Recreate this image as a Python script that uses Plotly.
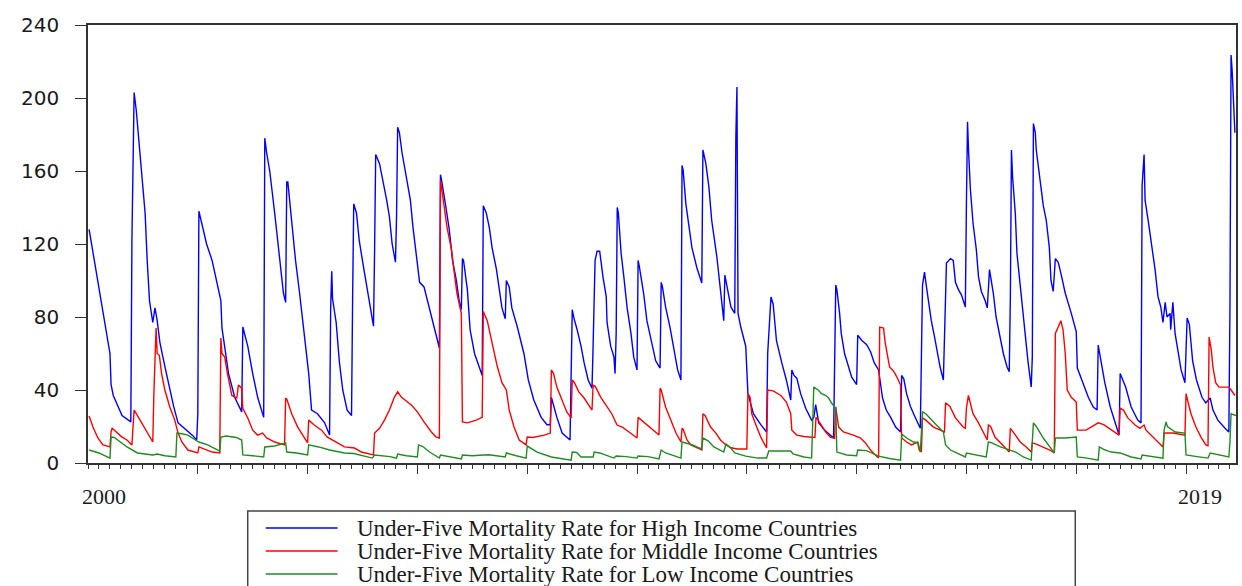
import plotly.graph_objects as go

blue_x = [1,20,21,23,31,39,40,42,44,45.5,48,50,52,54,56,59,61,63,65.5,70,74.5,78,82,88,95.5,99,100,101,103.6,108,113,117,121,122,124.5,128,133.6,140,141,142.7,145.5,150,154.5,160,161,162.7,165.5,170,174.5,178,180,181,182,185.5,189,192.7,197,201,203.6,209,215.5,220,221,222,222.7,226,229,232,236,240,241,242,244.5,247,251,254.5,258,260,261,262,265.5,268,272,274.5,277,280,281,282,283.6,286,290,293.6,296,300,302,306,311,315.5,320,321,322,326,329,332,335.5,338,340,341,342,345.5,348,352,356,359,360,362.7,365.5,368,372,374.5,377,380,381,383.6,386,391,397,401,406,412.7,418,421,422,427,431.8,439,440,441,442.7,445.5,449,451.8,455.5,459,460,461.8,463.6,466,469,472,472.7,476,479,480,481,482,483,485.5,488,491,494.5,497,500,501,502,506,509,512.7,517,521,522,523,526,530,533.6,537,540,541,542,544.5,547,550,554.5,558,559,560,562.7,565.5,568,572.7,576,579,580,581,585.5,589,590,591,592,594.5,599,601,606,612.7,618,619,622,624,627,631.8,636,640,641,643,645.5,649,653.6,659,661,662.7,665.5,671,679,681,682,684.5,686,689,692.7,695.5,700,701,705,709,712.7,716,720,721.8,723.6,727,731,735.5,740,741,743,745.5,749,753.6,758,760,761.8,763.6,766,768,771,772.7,776,779,781,781.8,785.5,788,790,792.7,795.5,799,800,801,802,803.6,806,809,811,813.6,817,819,821,823,824.5,827,831,833.6,837,839,840,841,842,844.5,846,849,851.8,854.5,856,859,860,861,862.7,863.6,866,868,870,872.7,875.5,877,879,881,883.6,886,890,895.5,900,901,906,911,915.5,919,920,922.7,926,931,935.5,939,940,945,950,956,959,960,961.8,962.7,965.5,968,971.8,974.5,977,979,981,982.7,985.5,986,988,990,992.7,995.5,999,1000,1001,1003,1006,1009.5,1014.5,1018,1022,1024.5,1029,1035.5,1039,1040,1041,1042,1043,1044.5]
blue_y = [128,60,43,37,26,22.5,122,203,193,182,168,152,137,110,89,77,85,78,66,53,40,31,22,19,15,12.6,27,138,131,120,111,100,89,74,64,49,36,28,74.5,71,64,49,36,25,178,170,160,137,113,93,88,154,154,133,111,93,71,49,29,27,22,15.3,85,105,90,77,55,40,29,26,91,142,137,122,107,95,82,75,116,169,164,157,144,135,120,110,135,184,181,170,157,144,129,111,99,96.5,84,73,63,158,155,140,128,111,100,89,84,112,111,95,73,60,53,48,141,137,129,118,106,96.5,85,79,100,96.5,85,74.5,60,45.5,34.5,25,21,21,36,25,16.4,12.6,58,84,79,73,64,55,45.5,41,64,111,116,116,102,91,77,64,58,49,71,140,137,115,102,85,71,58,51,111,108,93,78,67,56,52,99,97,85.5,74.5,62,51,45.5,163,160.5,142,131,118,107,100,98.6,171.5,164,151,133,113,93,78,103,100,85.5,82,178,206,82,74.5,64,38,27,21,17,60,91,87,67,55,45.5,34.5,51,48,46.5,38,30,23.5,25,32,22,18,13.7,97.5,95,82,71,60,53,47,43,70,67,65,61,55,51,44,35.6,29,25,19.7,17,48,46,38,31,24.7,19,97.5,104.6,96.5,85.5,78,69,63.6,52.6,45.5,95,109.6,112,111,99,95,92,85.5,142.5,187,170,150,131.5,117,102,94,89,85,106,99,93,80,69,60,52.6,50,90.4,171.5,157,137,115,96.5,82,63.6,56,41.6,58,186,181,171.5,160.5,153,141,133,118,100,94,112,110,104,93,82,72,52,44,36,30.7,29,64.6,55,44,30.7,22,15.3,49,41.6,30.7,23.5,22,152,169,144,133,122,106,91,85.5,77,88,80,82,73,88,71,60,51,44,63.6,79.5,76,56,45.5,36,33,35.6,29,23.5,19,17,85.5,223.5,215,198,181]

red_x = [1,4.5,9,13.6,20,21,22,25,31,35.5,40,41,42,44,49,54.5,59,60,62,63,65,67,70,74.5,79,82,85.5,91,100,101,105,113,120,121,122,124.5,127,131,135.5,137,140,141,145.5,150,154.5,159,162.7,170,179,180,181,185.5,191,195.5,200,201,206,212.7,218,224.5,233.6,242.7,249,260,261,265.5,270,274.5,279,282,285.5,294.5,300,306,312.7,317,320,321,322,324.5,327,331,333.6,336,340,341,345.5,353.6,359,360,363.6,368,372.7,377,381,383.6,388,392.7,399,400,405,415.5,421,422,424,427,431.8,436,440,441,443,447,451.8,456,459,460,462,467,472.7,477,481.8,487,492.7,499,500,501,505,512.7,520,521,522,526,531,535.5,540,541,542,545.5,549,554.5,559,560,562,567,571.8,576,581,585,591,600,601,603,604.5,609,612.7,618,619,624,631,636,640,641,645.5,652,659,662,663,665.5,671.8,676,680,681,683.6,688,697,703.6,708,712.7,717,720,721,724.5,726,728,730,732.7,735,738,740,741,745.5,750,755.5,757,759,760,763,770,776,780,781,785,790,797,799,800,801.8,803.5,806,811,815.5,819,820,822,826,831,835.5,839,840,842,849,854.5,859,860,863,870,876,880,881,883.6,886,888,890,891.8,895.5,900,901,909,913.6,920,925,931.8,936,939,940,943,947,953.6,958,960,961.8,963.6,968,974.5,979,980,988,999,1000,1001.8,1004.5,1009,1013.6,1018,1020,1021,1023,1024.5,1027,1030,1035.5,1039,1041,1044.5]
red_y = [25.8,19.7,13.7,9.9,8.8,17,19,17.5,14.2,12.6,9.9,19.7,29,27,22,16.4,11.5,38,74,60,59,49,40,30.7,23.5,16.4,11.5,7.1,5.5,8.8,8,6,5.5,68.5,60,58,49,37,35.6,42.7,41,30,24.7,18,15.3,16.4,13.7,11.5,9.9,35.6,35,27,19.7,15.3,11,23.5,20.8,18,14.2,12,8.8,8.2,6,4.4,16.4,19,23.5,29,36,39,36,31.8,28,22.5,17,14.2,13.7,155,150,140,129,117,104,93,82,22.5,22,23.5,25,83,78,66,53,44,40,29,19.7,12.6,9.9,14.2,14,15.3,16.4,51,49,41.6,34.5,28,24.7,45.5,44,39,35.6,32,29,42.7,42,36,30.7,27,20.8,19.5,17,14.2,13.7,25,23,19,15.3,41,40,30.7,23.5,16.4,11.5,19,18.5,12.6,9.9,8.2,7.1,27,26,19.7,16.4,12.6,9.9,8.5,7.7,7.7,38,36,27,19.7,14.2,8.2,40,39.5,37,33.4,27,18,15.3,14.5,14.2,14,25,23,17,14.2,13.5,30.7,19.7,17,15.3,13.7,11,7.1,4.4,2.7,74.5,74,66,58,52.6,51,49,45.5,42.7,13.7,11.5,9.9,11.5,7.1,6,24.7,23.5,19.7,18,17,33,31,24.7,19.7,19,30,37,33,27,22,16.4,12.6,20.8,20,14.2,11,8.2,6,19,17.5,11.5,8.8,6,11,10.5,8.8,7.1,5.5,71,74.5,78,73,60,40,36,33.4,18,18,19.7,22,21,18,16.4,15.3,30,29,24.7,20.8,19,19.7,20.8,18,15.3,11.5,8.8,16.4,16.4,15.3,38,33.4,27,19.7,14.2,9.9,9.5,69,62,52.6,44,41.6,41.6,41.6,40,37]

green_x = [1,10,20,21,24,35.5,45,59,63,70,80,81,85.5,91,101,109,120,121,126,135,140,141,150,160,161,170,180,181,190,200,201,210,220,233.6,242,259,261,275,281,282,290,300,301,305,311,320,321,330,340,341,350,360,365,380,381,390,399,400,409,422,430,440,441,445,449,460,461,466,479,481,490,500,501,510,520,522,526,540,541,550,554.5,559,560,565,570,579,581,585,589,599,610,618,620,630,640,642,652,659,661,665,668,672,674.5,677,681,682,691,700,701,709,720,730,740,741,745.5,751.8,756,758,760,763,768,772.7,779,781,785.5,794.5,799,800,810,818,820,823,831,840,845,851.8,859,861,863.6,870,876,880,881,890,900,901,910,920,921,925,931.8,940,950,959,960,970,979,980,981.8,983,990,999,1000,1010,1020,1022,1030,1039,1040,1041,1045.5]
green_y = [7.1,5.5,2.7,14.2,14,8.8,5.5,4.4,4.9,4,3.3,16.4,16,15.3,11.5,9.9,6.5,14.2,14.8,14,12.6,4.4,4,3.3,8.8,9.3,11,6,5.5,4.4,9.9,8.8,7.1,5.5,5.2,2.7,4.4,3.5,2.7,4.9,4,3.3,9.9,9,6,2.7,4.4,3.5,2.2,4.4,4,4.4,4.5,3.3,5.5,4,2.7,9.3,6,3.3,2.5,1.6,6,5.8,3.3,3.3,6,5.5,2.7,3.8,3.5,2.7,3.8,3.5,2.2,7.1,5.5,2.7,11.5,10,8.8,7.7,13.7,12,8.8,6,10.4,8.5,5.5,3.8,2.7,2.7,6.6,6.6,6.6,5,3.3,2.7,41.6,40,38,37,35.6,33,30,6,4.4,4,7.1,6.8,3.8,2.5,1.6,15.9,13.7,11.5,11,6,28,27,23.5,20.8,17,9.9,7.1,4.4,3.3,5.5,4.5,3.3,11.5,11,8.8,7.1,6,3.3,1.6,22,20,13.7,8.8,5.5,13.7,13.7,14.2,3.3,2.7,1.6,8.8,7.5,6,5.5,3.3,2.2,4.4,3.5,2.7,18,22.5,20,17,16.4,4.4,3.5,2.7,5.5,4.5,3.3,11.5,27,26]

series_names = [
    "Under-Five Mortality Rate for High Income Countries",
    "Under-Five Mortality Rate for Middle Income Countries",
    "Under-Five Mortality Rate for Low Income Countries",
]
series_colors = ["#0000FF", "#FF0000", "#1E8C1E"]
y_ticks = [0, 40, 80, 120, 160, 200, 240]
major_ticks = [100, 200, 300, 400, 500, 600, 700, 800, 900, 1000]
year_labels = ["2000", "2019"]
year_label_pos = [14.5, 1013]

fig = go.Figure()
for xs, ys, name, col in zip([blue_x, red_x, green_x], [blue_y, red_y, green_y], series_names, series_colors):
    fig.add_trace(go.Scatter(x=xs, y=ys, mode="lines", name=name,
                             line=dict(color=col, width=1.4), showlegend=False))

axis_col = "#333333"
fig.update_layout(
    width=1242, height=586,
    margin=dict(l=88, r=4, t=25, b=123),
    paper_bgcolor="white", plot_bgcolor="white",
    xaxis=dict(range=[0, 1045.5], showgrid=False, zeroline=False,
               showline=True, mirror=True, linecolor=axis_col, linewidth=1.5,
               tickmode="array", tickvals=major_ticks, ticks="outside", ticklen=9,
               tickcolor=axis_col, tickwidth=1.3, showticklabels=False,
               minor=dict(tickmode="linear", tick0=0, dtick=10, ticks="outside",
                          ticklen=4, tickcolor=axis_col, tickwidth=1.2)),
    yaxis=dict(range=[0, 240], showgrid=False, zeroline=False,
               showline=True, mirror=True, linecolor=axis_col, linewidth=1.5,
               tickmode="array", tickvals=y_ticks, ticks="outside", ticklen=11,
               tickcolor=axis_col, tickwidth=1.3, ticklabelstandoff=12,
               tickfont=dict(family="DejaVu Sans", size=20, color="#1a1a1a")),
)

for lab, pos in zip(year_labels, year_label_pos):
    fig.add_annotation(x=pos, y=-0.0776, xref="x", yref="paper", text=lab, showarrow=False,
                       xanchor="center", yanchor="middle",
                       font=dict(family="Liberation Serif", size=22, color="#1a1a1a"))

# Legend box drawn manually (text as annotations)
def py2paper(py):
    return (463 - py) / 438.0

def px2paper(px):
    return (px - 88) / 1150.0

fig.add_shape(type="rect", xref="paper", yref="paper",
              x0=px2paper(248), x1=px2paper(1077), y0=py2paper(511), y1=py2paper(620),
              line=dict(color="#444444", width=1.5), fillcolor="rgba(0,0,0,0)")
for i, (name, col) in enumerate(zip(series_names, series_colors)):
    yy = py2paper(528 + 23 * i)
    fig.add_shape(type="line", xref="paper", yref="paper",
                  x0=px2paper(266), x1=px2paper(338), y0=yy, y1=yy,
                  line=dict(color=col, width=1.3))
    fig.add_annotation(x=px2paper(355), y=yy, xref="paper", yref="paper", text=name,
                       showarrow=False, xanchor="left", yanchor="middle",
                       font=dict(family="Liberation Serif", size=23, color="#1a1a1a"))

fig.write_html("out.html", config={"displayModeBar": False},
               post_script="document.body.style.margin='0';document.body.style.overflow='hidden';")
